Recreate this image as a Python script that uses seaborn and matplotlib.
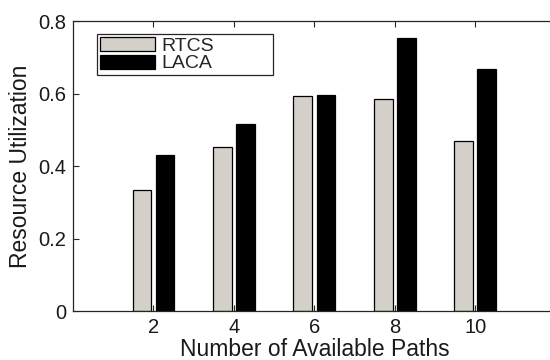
import matplotlib
matplotlib.use("Agg")
import matplotlib.pyplot as plt
import seaborn as sns
import pandas as pd

paths = [2, 4, 6, 8, 10]
rtcs = [0.334, 0.453, 0.592, 0.586, 0.469]
laca = [0.430, 0.517, 0.595, 0.752, 0.669]
methods = ["RTCS", "LACA"]
xticks = [2, 4, 6, 8, 10]
yticks = [0, 0.2, 0.4, 0.6, 0.8]
ytick_labels = ["0", "0.2", "0.4", "0.6", "0.8"]

df = pd.DataFrame({
    "paths": paths * 2,
    "util": rtcs + laca,
    "method": ["RTCS"] * len(paths) + ["LACA"] * len(paths),
})

sns.set_style("white")
plt.rcParams["font.family"] = ["Liberation Sans", "DejaVu Sans"]

fig = plt.figure(figsize=(5.5, 3.6), dpi=100)
ax = fig.add_axes([0.1327, 0.136, 0.878, 0.8056])

sns.barplot(data=df, x="paths", y="util", hue="method", hue_order=methods,
            palette={"RTCS": "#d4d0c8", "LACA": "#000000"},
            native_scale=True, width=0.572, gap=0.18, dodge=True,
            edgecolor="black", linewidth=0.9, errorbar=None, ax=ax)

ax.set_xlim(0, 12)
ax.set_ylim(0, 0.8)
ax.set_xticks(xticks)
ax.set_xticklabels([str(t) for t in xticks])
ax.set_yticks(yticks)
ax.set_yticklabels(ytick_labels)

for s in ax.spines.values():
    s.set_visible(True)
    s.set_color("#262626")
    s.set_linewidth(0.9)

ax.tick_params(axis="both", which="both", direction="in", length=4, width=0.8,
               color="#262626", labelsize=14.5, labelcolor="#1a1a1a",
               top=True, right=True, bottom=True, left=True, pad=5)

ax.set_xlabel("Number of Available Paths", fontsize=16.5, labelpad=1, color="#1a1a1a")
ax.set_ylabel("Resource Utilization", fontsize=16.5, labelpad=4, color="#1a1a1a")

ax.legend(loc="upper left", bbox_to_anchor=(0.05, 0.955, 0.364, 0.0), mode="expand",
          borderaxespad=0, frameon=True, fancybox=False, edgecolor="#262626",
          framealpha=1, fontsize=14, handlelength=2.85, handleheight=0.72,
          handletextpad=0.3, labelspacing=0.0, borderpad=0.15)
ax.get_legend().get_frame().set_linewidth(0.9)

fig.savefig("out.png", dpi=100)
